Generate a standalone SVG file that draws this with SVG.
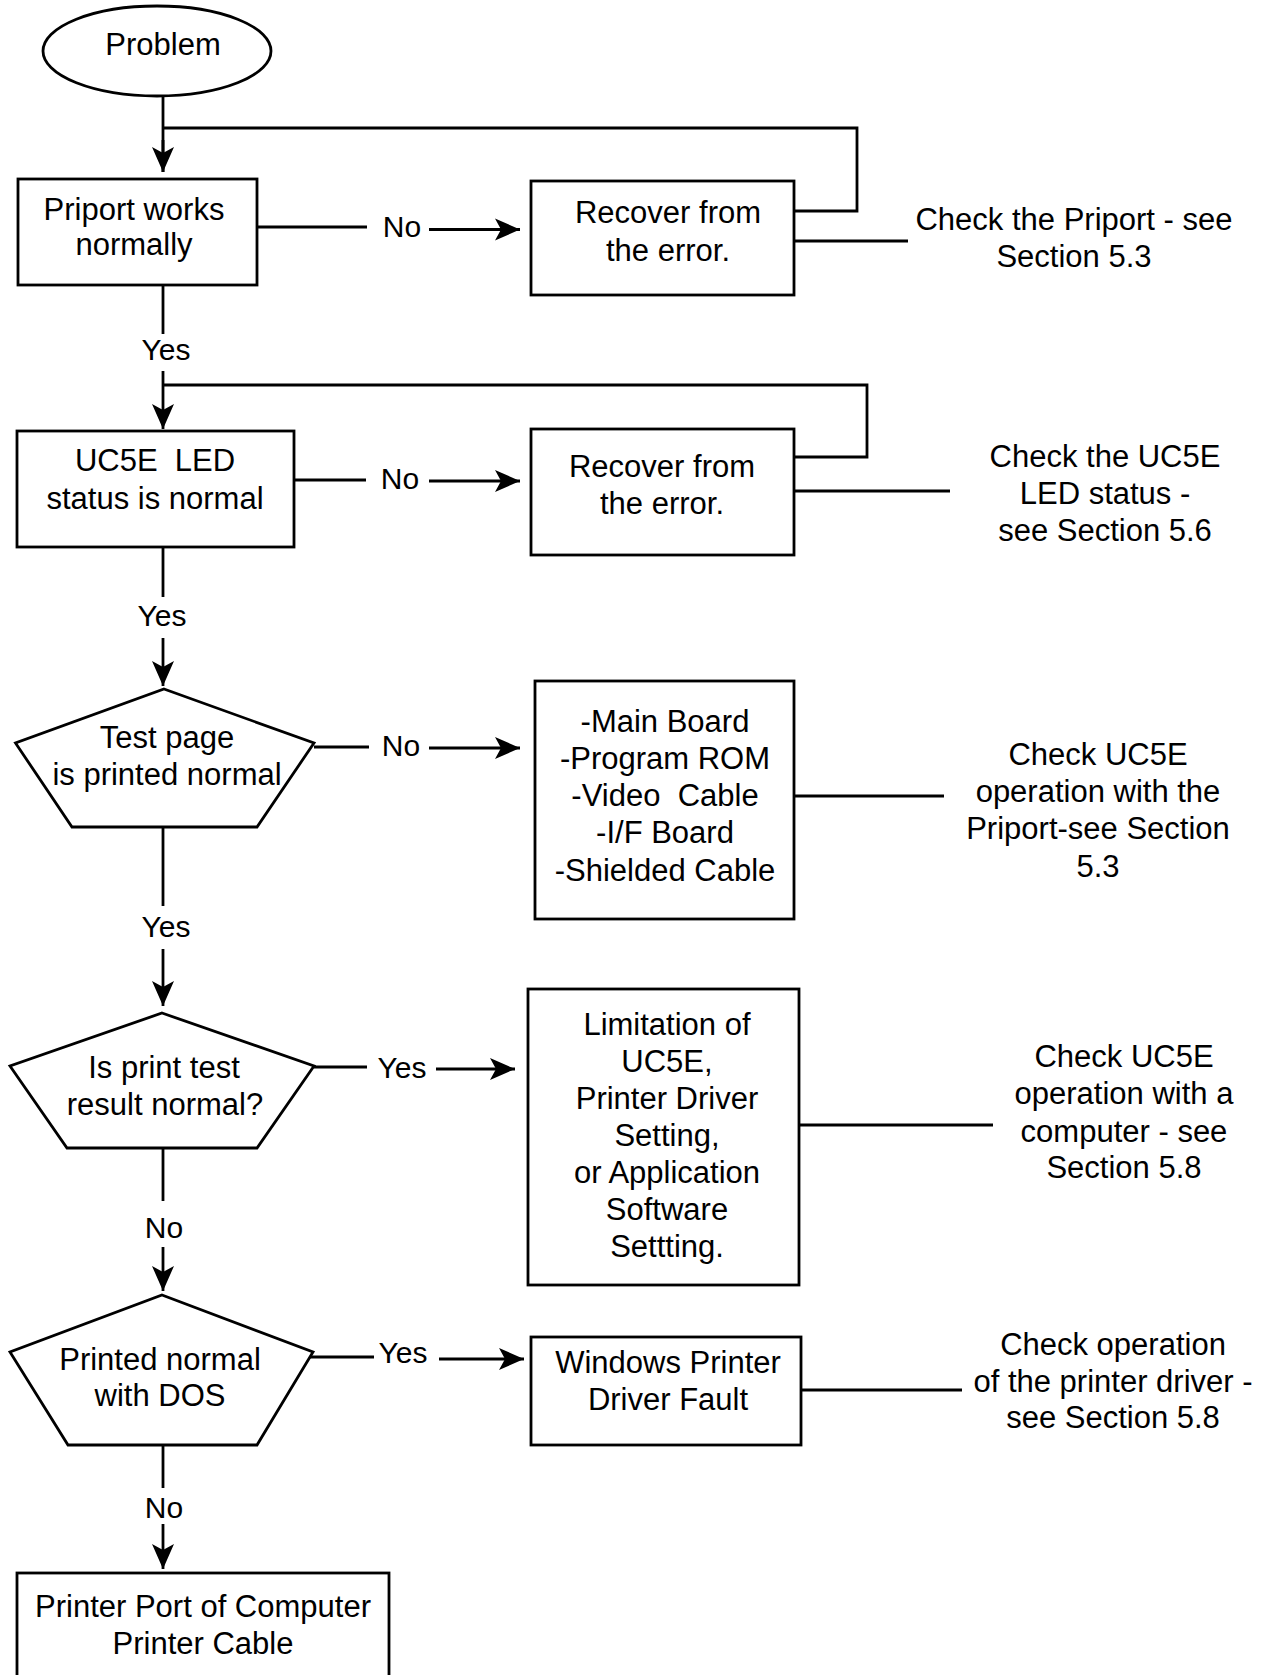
<svg xmlns="http://www.w3.org/2000/svg" width="1265" height="1675" viewBox="0 0 1265 1675">
<defs>
<style>
.shape{fill:#fff;stroke:#000;stroke-width:2.8}
.ln{fill:none;stroke:#000;stroke-width:2.8}
.arr{fill:none;stroke:#000;stroke-width:2.8;marker-end:url(#ah)}
text{font-family:"Liberation Sans",Arial,sans-serif;font-size:31px;fill:#000;text-anchor:middle}
.lbl{font-size:30px}
</style>
<marker id="ah" markerUnits="userSpaceOnUse" viewBox="-26 -12 27 24" refX="0" refY="0" markerWidth="27" markerHeight="24" orient="auto">
<path d="M0,0 L-25,-11 L-19,0 L-25,11 Z" fill="#000"/>
</marker>
</defs>
<rect width="1265" height="1675" fill="#fff"/>

<g id="connectors">
<path class="ln" d="M163,96 V172"/>
<path class="arr" d="M163,140 V172"/>
<path class="ln" d="M794,211 H857 V128 H163"/>
<path class="ln" d="M257,227 H367"/>
<path class="arr" d="M429,229.5 H520"/>
<path class="ln" d="M794,241 H908"/>
<path class="ln" d="M163,285 V334"/>
<path class="arr" d="M163,371 V429"/>
<path class="ln" d="M792,457 H867 V385 H163"/>
<path class="ln" d="M294,480 H366"/>
<path class="arr" d="M429,481 H520"/>
<path class="ln" d="M794,491 H950"/>
<path class="ln" d="M163,547 V597"/>
<path class="arr" d="M163,638 V686"/>
<path class="ln" d="M314,747 H369"/>
<path class="arr" d="M429,748 H520"/>
<path class="ln" d="M794,796 H944"/>
<path class="ln" d="M163,827 V906"/>
<path class="arr" d="M163,949 V1006"/>
<path class="ln" d="M314,1067 H367"/>
<path class="arr" d="M436,1069 H515"/>
<path class="ln" d="M799,1125 H993"/>
<path class="ln" d="M163,1148 V1201"/>
<path class="arr" d="M163,1247 V1291"/>
<path class="ln" d="M310,1357 H374"/>
<path class="arr" d="M439,1359 H524"/>
<path class="ln" d="M801,1390 H962"/>
<path class="ln" d="M163,1445 V1488"/>
<path class="arr" d="M163,1524 V1569"/>
<text class="lbl" x="402" y="237">No</text>
<text class="lbl" x="166" y="360">Yes</text>
<text class="lbl" x="400" y="489">No</text>
<text class="lbl" x="162" y="626">Yes</text>
<text class="lbl" x="401" y="756">No</text>
<text class="lbl" x="166" y="937">Yes</text>
<text class="lbl" x="402" y="1078">Yes</text>
<text class="lbl" x="164" y="1238">No</text>
<text class="lbl" x="403" y="1363">Yes</text>
<text class="lbl" x="164" y="1518">No</text>
</g>

<g id="start">
<ellipse class="shape" cx="157" cy="51" rx="114" ry="45"/>
<text x="163" y="55">Problem</text>
</g>

<g id="priport">
<rect class="shape" x="18" y="179" width="239" height="106"/>
<text x="134" y="220">Priport works</text>
<text x="134" y="255">normally</text>
</g>

<g id="recover1">
<rect class="shape" x="531" y="181" width="263" height="114"/>
<text x="668" y="223">Recover from</text>
<text x="668" y="261">the error.</text>
</g>

<g id="note1">
<text x="1074" y="230">Check the Priport - see</text>
<text x="1074" y="267">Section 5.3</text>
</g>

<g id="led">
<rect class="shape" x="17" y="431" width="277" height="116"/>
<text x="155" y="471">UC5E&#160; LED</text>
<text x="155" y="509">status is normal</text>
</g>

<g id="recover2">
<rect class="shape" x="531" y="429" width="263" height="126"/>
<text x="662" y="477">Recover from</text>
<text x="662" y="514">the error.</text>
</g>

<g id="note2">
<text x="1105" y="467">Check the UC5E</text>
<text x="1105" y="504">LED status -</text>
<text x="1105" y="541">see Section 5.6</text>
</g>

<g id="testpage">
<polygon class="shape" points="164,689 314,743 257,827 72,827 15.5,743"/>
<text x="167" y="748">Test page</text>
<text x="167" y="785">is printed normal</text>
</g>

<g id="parts">
<rect class="shape" x="535" y="681" width="259" height="238"/>
<text x="665" y="732">-Main Board</text>
<text x="665" y="769">-Program ROM</text>
<text x="665" y="806">-Video&#160; Cable</text>
<text x="665" y="843">-I/F Board</text>
<text x="665" y="881">-Shielded Cable</text>
</g>

<g id="note3">
<text x="1098" y="765">Check UC5E</text>
<text x="1098" y="802">operation with the</text>
<text x="1098" y="839">Priport-see Section</text>
<text x="1098" y="877">5.3</text>
</g>

<g id="printtest">
<polygon class="shape" points="162,1013 314,1066 257,1148 67,1148 10,1066"/>
<text x="164" y="1078">Is print test</text>
<text x="165" y="1115">result normal?</text>
</g>

<g id="limitation">
<rect class="shape" x="528" y="989" width="271" height="296"/>
<text x="667" y="1035">Limitation of</text>
<text x="667" y="1072">UC5E,</text>
<text x="667" y="1109">Printer Driver</text>
<text x="667" y="1146">Setting,</text>
<text x="667" y="1183">or Application</text>
<text x="667" y="1220">Software</text>
<text x="667" y="1257">Settting.</text>
</g>

<g id="note4">
<text x="1124" y="1067">Check UC5E</text>
<text x="1124" y="1104">operation with a</text>
<text x="1124" y="1142">computer - see</text>
<text x="1124" y="1178">Section 5.8</text>
</g>

<g id="dos">
<polygon class="shape" points="162,1295 313,1352 257,1445 68,1445 10,1352"/>
<text x="160" y="1370">Printed normal</text>
<text x="160" y="1406">with DOS</text>
</g>

<g id="winfault">
<rect class="shape" x="531" y="1337" width="270" height="108"/>
<text x="668" y="1373">Windows Printer</text>
<text x="668" y="1410">Driver Fault</text>
</g>

<g id="note5">
<text x="1113" y="1355">Check operation</text>
<text x="1113" y="1392">of the printer driver -</text>
<text x="1113" y="1428">see Section 5.8</text>
</g>

<g id="port">
<rect class="shape" x="17" y="1573" width="372" height="130"/>
<text x="203" y="1617">Printer Port of Computer</text>
<text x="203" y="1654">Printer Cable</text>
</g>
</svg>
